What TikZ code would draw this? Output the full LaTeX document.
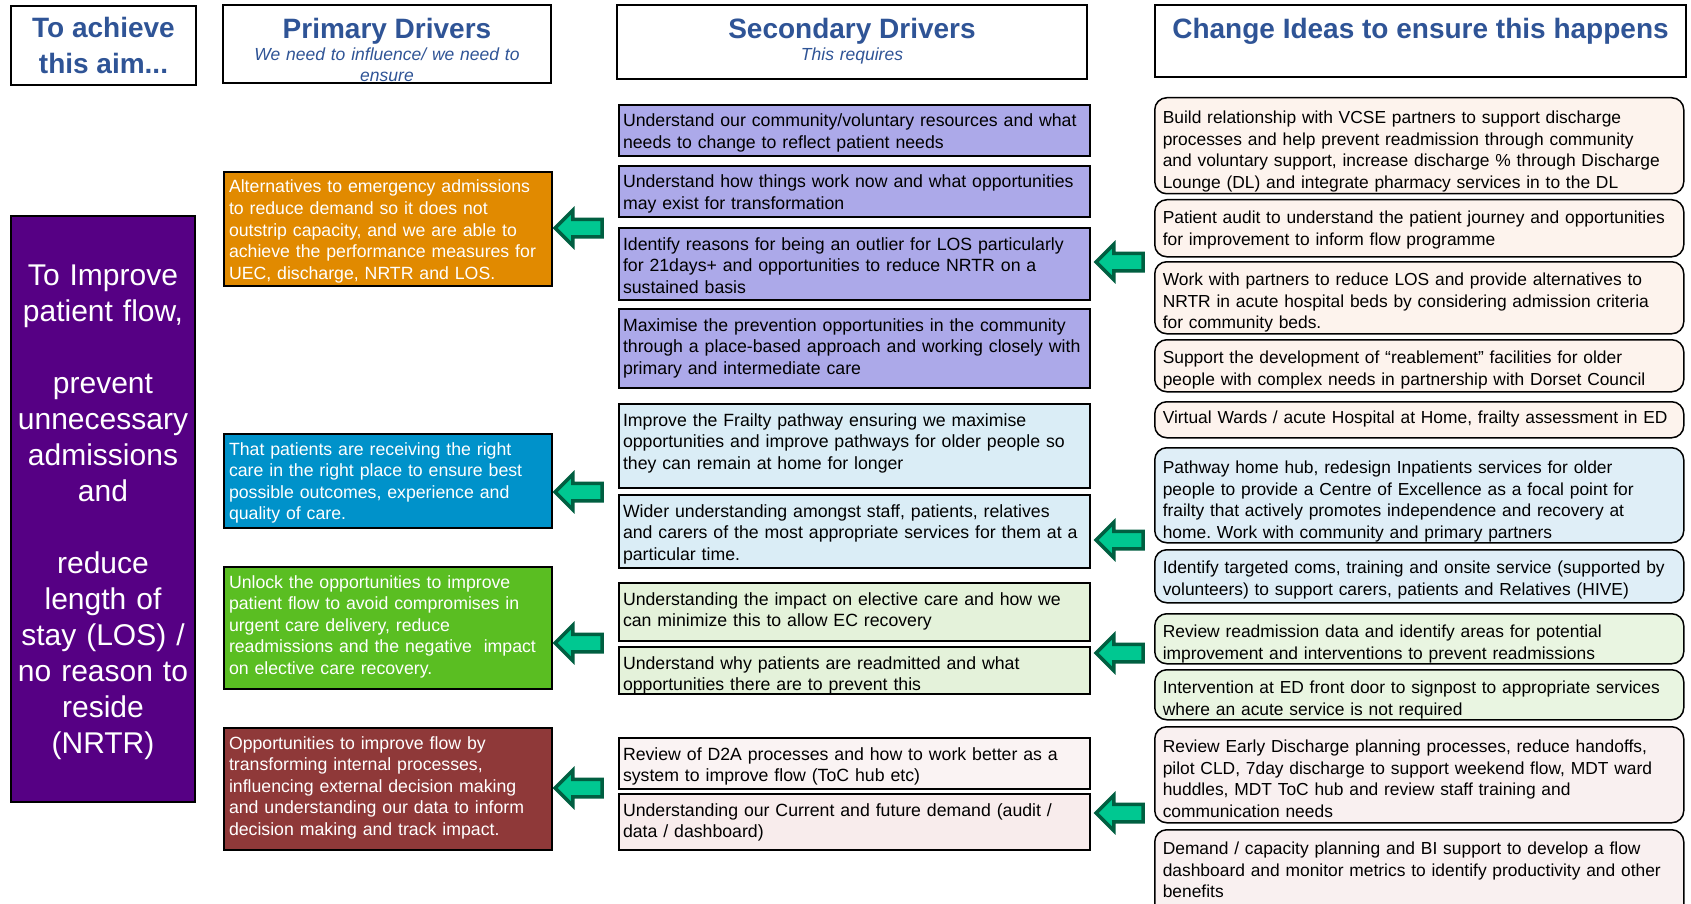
\documentclass[tikz,border=0pt]{standalone}
\usepackage{fontspec}
\setmainfont{Liberation Sans}
\frenchspacing
\usetikzlibrary{shapes.arrows}

% palette
\definecolor{hdrblue}{RGB}{47,84,150}
\definecolor{aimpurple}{RGB}{86,0,132}
\definecolor{porange}{RGB}{225,138,0}
\definecolor{pblue}{RGB}{0,146,202}
\definecolor{pgreen}{RGB}{90,190,34}
\definecolor{pred}{RGB}{143,57,57}
\definecolor{slav}{RGB}{172,169,233}
\definecolor{sblue}{RGB}{218,237,246}
\definecolor{sgreen}{RGB}{228,242,218}
\definecolor{spinkA}{RGB}{250,243,243}
\definecolor{spinkB}{RGB}{248,236,236}
\definecolor{cpeach}{RGB}{253,243,237}
\definecolor{cblue}{RGB}{223,238,247}
\definecolor{cgreen}{RGB}{233,245,225}
\definecolor{cpink}{RGB}{249,240,240}
\definecolor{arrowfill}{RGB}{0,200,145}
\definecolor{arrowdark}{RGB}{0,95,65}

% one unbreakable line of box text
\newcommand{\bl}[1]{\mbox{#1}}

\tikzset{
  hdr/.style={draw=black, line width=2pt, fill=white, inner sep=0pt},
  hdrtitle/.style={font=\fontsize{28}{36}\selectfont\bfseries, text=hdrblue, anchor=base, inner sep=0pt},
  hdrsub/.style={font=\fontsize{17.5}{21}\selectfont\itshape, text=hdrblue, anchor=base, inner sep=0pt, align=center},
  bodyfont/.style={font=\fontsize{17.7}{21.6}\selectfont},
  ideafont/.style={font=\fontsize{17.4}{21.6}\selectfont},
  aimbox/.style={draw=black, line width=2pt, fill=aimpurple, text=white, inner sep=0pt,
    font=\fontsize{30}{36}\selectfont, align=center, text width=176pt,
    minimum width=184pt, minimum height=586pt, text height=27.5pt},
  primbox/.style={draw=black, line width=2pt, anchor=north west, inner xsep=5pt, inner ysep=0pt,
    text width=318pt, text height=21pt, bodyfont, text=white, align=left},
  secbox/.style={draw=black, line width=2pt, anchor=north west, inner xsep=4pt, inner ysep=0pt,
    text width=463pt, text height=22pt, bodyfont, text=black, align=left},
  ideabox/.style={draw=black, line width=1.5pt, rounded corners=12pt, anchor=north west,
    inner xsep=8pt, inner ysep=0pt, text width=513pt, text height=24pt, ideafont,
    text=black, align=left},
  blockarrow/.style={single arrow, shape border rotate=180, draw=arrowdark, fill=arrowfill,
    line width=3.5pt, minimum height=47pt, single arrow head extend=9pt,
    single arrow tip angle=90, inner sep=0pt, text height=7pt, text depth=7pt},
}

\begin{document}
\begin{tikzpicture}[x=1pt,y=-1pt]
\useasboundingbox (0,0) rectangle (1691,904);
\fill[white] (0,0) rectangle (1691,904);
\clip (0,0) rectangle (1691,904);

% ---- column headers ----
\node[hdr, minimum width=185pt, minimum height=79pt, font=\fontsize{28}{36}\selectfont\bfseries,
      text=hdrblue, align=center] (aimhdr) at (103.5,45.5) {To achieve\\this aim...};

\node[hdr, minimum width=328pt, minimum height=78pt] (primhdr) at (387,44) {};
\node[hdrtitle] (primtitle) at (387,39) {Primary Drivers};
\node[hdrsub, text width=320pt] (primsub) at (387,61) {We need to influence/ we need to\\ensure};

\node[hdr, minimum width=470pt, minimum height=74pt] (sechdr) at (852,42) {};
\node[hdrtitle] (sectitle) at (852,39) {Secondary Drivers};
\node[hdrsub, text width=320pt] (secsub) at (852,61) {This requires};

\node[hdr, minimum width=531pt, minimum height=72pt] (ideahdr) at (1420.5,41) {};
\node[hdrtitle] (ideatitle) at (1420.5,39) {Change Ideas to ensure this happens};

% ---- aim ----
\node[aimbox] (aim) at (103,509) {To Improve\\patient flow,\\[36pt]
  prevent\\unnecessary\\admissions\\and\\[36pt]
  reduce\\length of\\stay (LOS) /\\no reason to\\reside\\(NRTR)};

% ---- primary drivers ----
\node[primbox, fill=porange, text depth=93pt] (p1) at (223,171)
  {\bl{Alternatives to emergency admissions}\\\bl{to reduce demand so it does not}\\\bl{outstrip capacity, and we are able to}\\\bl{achieve the performance measures for}\\\bl{UEC, discharge, NRTR and LOS.}};
\node[primbox, fill=pblue, text depth=73pt] (p2) at (223,433)
  {\bl{That patients are receiving the right}\\\bl{care in the right place to ensure best}\\\bl{possible outcomes, experience and}\\\bl{quality of care.}};
\node[primbox, fill=pgreen, text depth=101pt] (p3) at (223,566)
  {\bl{Unlock the opportunities to improve}\\\bl{patient flow to avoid compromises in}\\\bl{urgent care delivery, reduce}\\\bl{readmissions and the negative\ \ impact}\\\bl{on elective care recovery.}};
\node[primbox, fill=pred, text depth=101pt] (p4) at (223,727)
  {\bl{Opportunities to improve flow by}\\\bl{transforming internal processes,}\\\bl{influencing external decision making}\\\bl{and understanding our data to inform}\\\bl{decision making and track impact.}};

% ---- secondary drivers ----
\node[secbox, fill=slav, text depth=29pt] (s1) at (618,104)
  {\bl{Understand our community/voluntary resources and what}\\\bl{needs to change to reflect patient needs}};
\node[secbox, fill=slav, text depth=29pt] (s2) at (618,165)
  {\bl{Understand how things work now and what opportunities}\\\bl{may exist for transformation}};
\node[secbox, fill=slav, text depth=50pt] (s3) at (618,227)
  {\bl{Identify reasons for being an outlier for LOS particularly}\\\bl{for 21days+ and opportunities to reduce NRTR on a}\\\bl{sustained basis}};
\node[secbox, fill=slav, text depth=57pt] (s4) at (618,308)
  {\bl{Maximise the prevention opportunities in the community}\\\bl{through a place-based approach and working closely with}\\\bl{primary and intermediate care}};
\node[secbox, fill=sblue, text depth=62pt] (s5) at (618,403)
  {\bl{Improve the Frailty pathway ensuring we maximise}\\\bl{opportunities and improve pathways for older people so}\\\bl{they can remain at home for longer}};
\node[secbox, fill=sblue, text depth=51pt] (s6) at (618,494)
  {\bl{Wider understanding amongst staff, patients, relatives}\\\bl{and carers of the most appropriate services for them at a}\\\bl{particular time.}};
\node[secbox, fill=sgreen, text depth=36pt] (s7) at (618,582)
  {\bl{Understanding the impact on elective care and how we}\\\bl{can minimize this to allow EC recovery}};
\node[secbox, fill=sgreen, text depth=25pt] (s8) at (618,646)
  {\bl{Understand why patients are readmitted and what}\\\bl{opportunities there are to prevent this}};
\node[secbox, fill=spinkA, text depth=29pt] (s9) at (618,737)
  {\bl{Review of D2A processes and how to work better as a}\\\bl{system to improve flow (ToC hub etc)}};
\node[secbox, fill=spinkB, text depth=34pt] (s10) at (618,793)
  {\bl{Understanding our Current and future demand (audit /}\\\bl{data / dashboard)}};

% ---- change ideas ----
\node[ideabox, fill=cpeach, text height=26pt, text depth=70pt] (c1) at (1154,97)
  {\bl{Build relationship with VCSE partners to support discharge}\\\bl{processes and help prevent readmission through community}\\\bl{and voluntary support, increase discharge \% through Discharge}\\\bl{Lounge (DL) and integrate pharmacy services in to the DL}};
\node[ideabox, fill=cpeach, text depth=33pt] (c2) at (1154,199)
  {\bl{Patient audit to understand the patient journey and opportunities}\\\bl{for improvement to inform flow programme}};
\node[ideabox, fill=cpeach, text depth=48pt] (c3) at (1154,261)
  {\bl{Work with partners to reduce LOS and provide alternatives to}\\\bl{NRTR in acute hospital beds by considering admission criteria}\\\bl{for community beds.}};
\node[ideabox, fill=cpeach, text depth=28pt] (c4) at (1154,339)
  {\bl{Support the development of “reablement” facilities for older}\\\bl{people with complex needs in partnership with Dorset Council}};
\node[ideabox, fill=cpeach, text height=22pt, text depth=14pt] (c5) at (1154,401)
  {\bl{Virtual Wards / acute Hospital at Home, frailty assessment in ED}};
\node[ideabox, fill=cblue, text height=26pt, text depth=69pt] (c6) at (1154,447)
  {\bl{Pathway home hub, redesign Inpatients services for older}\\\bl{people to provide a Centre of Excellence as a focal point for}\\\bl{frailty that actively promotes independence and recovery at}\\\bl{home. Work with community and primary partners}};
\node[ideabox, fill=cblue, text depth=29pt] (c7) at (1154,549)
  {\bl{Identify targeted coms, training and onsite service (supported by}\\\bl{volunteers) to support carers, patients and Relatives (HIVE)}};
\node[ideabox, fill=cgreen, text depth=26pt] (c8) at (1154,613)
  {\bl{Review readmission data and identify areas for potential}\\\bl{improvement and interventions to prevent readmissions}};
\node[ideabox, fill=cgreen, text depth=26pt] (c9) at (1154,669)
  {\bl{Intervention at ED front door to signpost to appropriate services}\\\bl{where an acute service is not required}};
\node[ideabox, fill=cpink, text height=26pt, text depth=70pt] (c10) at (1154,726)
  {\bl{Review Early Discharge planning processes, reduce handoffs,}\\\bl{pilot CLD, 7day discharge to support weekend flow, MDT ward}\\\bl{huddles, MDT ToC hub and review staff training and}\\\bl{communication needs}};
\node[ideabox, fill=cpink, text height=25pt, text depth=65pt] (c11) at (1154,829)
  {\bl{Demand / capacity planning and BI support to develop a flow}\\\bl{dashboard and monitor metrics to identify productivity and other}\\\bl{benefits}};

% ---- block arrows: secondary -> primary ----
\node[blockarrow] (ap1) at (583,228) {};
\node[blockarrow] (ap2) at (583,492) {};
\node[blockarrow] (ap3) at (583,643) {};
\node[blockarrow] (ap4) at (583,788) {};

% ---- block arrows: change ideas -> secondary ----
\node[blockarrow] (as1) at (1124,262) {};
\node[blockarrow] (as2) at (1124,540) {};
\node[blockarrow] (as3) at (1124,653) {};
\node[blockarrow] (as4) at (1124,813) {};
\end{tikzpicture}
\end{document}
